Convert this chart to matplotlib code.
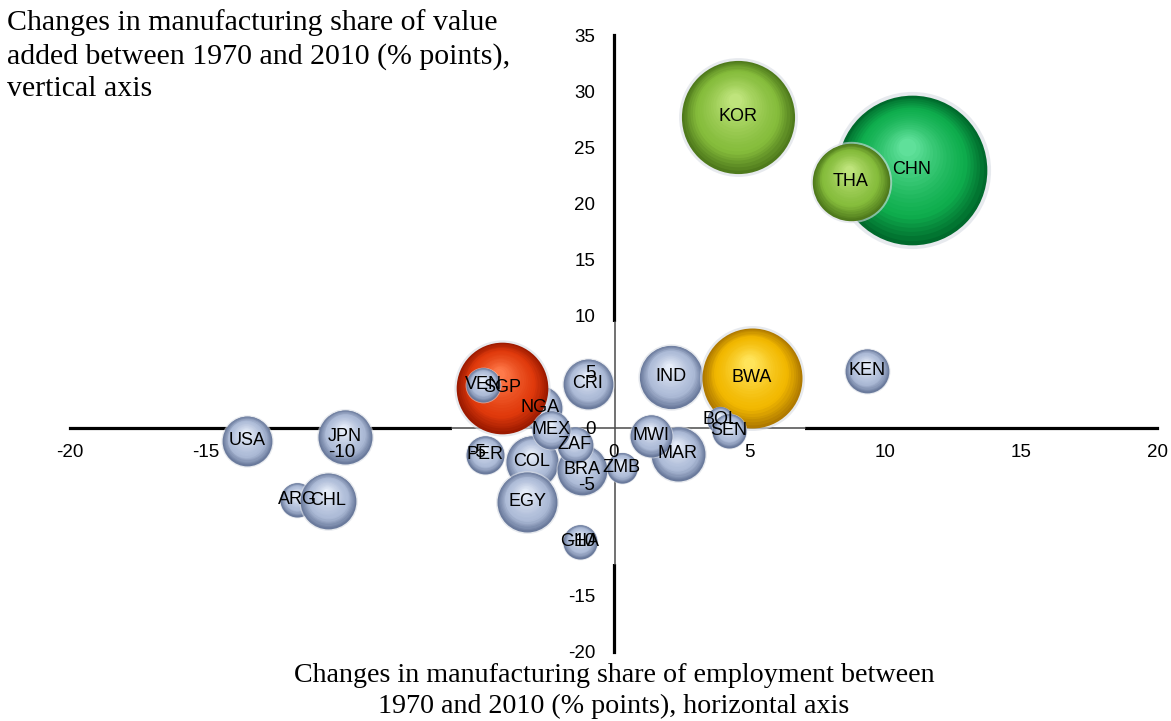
import numpy as np
import matplotlib
matplotlib.use("Agg")
import matplotlib.pyplot as plt
from matplotlib import transforms
from matplotlib.colors import to_rgb
from matplotlib.patches import Rectangle

plt.rcParams["axes.unicode_minus"] = False

# ---------------- data (drawing order: bottom -> top) ----------------
countries = ["CHN", "THA", "KOR", "NGA", "SGP", "VEN", "COL", "EGY", "BRA", "ZAF",
             "MEX", "CRI", "PER", "GHA", "ZMB", "MAR", "MWI", "IND", "BWA", "BOL",
             "SEN", "KEN", "USA", "JPN", "ARG", "CHL"]
emp_change = [10.98, 8.74, 4.58, -2.70, -4.10, -4.80, -3.00, -3.18, -1.16, -1.42,
              -2.30, -0.94, -4.73, -1.23, 0.31, 2.37, 1.38, 2.12, 5.10, 3.92,
              4.25, 9.32, -13.49, -9.88, -11.64, -10.50]
va_change = [23.0, 21.93, 27.72, 1.78, 3.57, 3.83, -3.03, -6.60, -3.74, -1.52,
             -0.18, 3.92, -2.41, -10.16, -3.57, -2.32, -0.71, 4.55, 4.46, 0.71,
             -0.27, 5.08, -1.16, -0.80, -6.42, -6.51]
bubble_size = [56, 15, 32, 4.8, 21, 2.9, 6.8, 9.0, 6.2, 3.2,
               3.6, 6.2, 3.6, 2.9, 2.3, 7.3, 4.4, 10.0, 25, 1.7,
               2.9, 4.8, 6.2, 7.3, 2.9, 7.8]
color_group = ["dkgreen", "ltgreen", "ltgreen", "gray", "red", "gray", "gray", "gray", "gray", "gray",
               "gray", "gray", "gray", "gray", "gray", "gray", "gray", "gray", "gold", "gray",
               "gray", "gray", "gray", "gray", "gray", "gray"]

x_ticks = [-20, -15, -10, -5, 0, 5, 10, 15, 20]
y_ticks = [-20, -15, -10, -5, 0, 5, 10, 15, 20, 25, 30, 35]

y_title = "Changes in manufacturing share of value\nadded between 1970 and 2010 (% points),\nvertical axis"
x_title = "Changes in manufacturing share of employment between\n1970 and 2010 (% points), horizontal axis"

# ---------------- styles ----------------
palettes = {
    "gray":    ("#6a7a9c", "#adbbd7", "#e6edf9"),
    "ltgreen": ("#4f7a1c", "#86bd3c", "#bfe47c"),
    "dkgreen": ("#006a2c", "#0fae4e", "#5fe09a"),
    "gold":    ("#b07a00", "#f2b800", "#ffe45a"),
    "red":     ("#9c1a00", "#e03a0c", "#ff7a4a"),
}

fig = plt.figure(figsize=(11.71, 7.21), dpi=100)
ax = fig.add_axes([70 / 1171, 1 - 652 / 721, 1087 / 1171, 617 / 721])
ax.set_xlim(-20, 20)
ax.set_ylim(-20, 35)

for side in ["right", "top"]:
    ax.spines[side].set_visible(False)
ax.spines["left"].set_position(("data", 0))
ax.spines["bottom"].set_position(("data", 0))
for side in ["left", "bottom"]:
    ax.spines[side].set_linewidth(2.3)
    ax.spines[side].set_color("black")
    ax.spines[side].set_zorder(1)

# inner plot-area patch with thin gray axis lines (as in the original picture)
ax.add_patch(Rectangle((-5.94, -12.2), 12.99, 21.65, facecolor="white",
                       edgecolor="none", zorder=1.5))
ax.plot([-5.94, 7.05], [0, 0], color="#4a4a4a", lw=1.1, zorder=1.6)
ax.plot([0.07, 0.07], [-12.2, 9.45], color="#4a4a4a", lw=1.1, zorder=1.6)

ax.set_xticks(x_ticks)
ax.set_yticks(y_ticks)
ax.tick_params(axis="both", length=0, labelsize=13.5)
ax.tick_params(axis="x", pad=12)
ax.tick_params(axis="y", pad=13)
for lab in ax.get_xticklabels() + ax.get_yticklabels():
    lab.set_fontfamily("Liberation Sans")
ax.xaxis.set_zorder(10)
ax.yaxis.set_zorder(10)


def mix(c1, c2, t):
    a = np.array(to_rgb(c1))
    b = np.array(to_rgb(c2))
    return tuple(a + (b - a) * t)


z = 3.0
N = 22
for x, y, s, g in zip(emp_change, va_change, bubble_size, color_group):
    edge, mid, light = palettes[g]
    r = 7.2 * np.sqrt(s)  # radius in points
    # faint halo
    ax.scatter([x], [y], s=(2 * r * 1.05) ** 2, color="#d8dce4", alpha=0.6,
               linewidths=0, zorder=z)
    for i in range(N):
        t = i / (N - 1)
        rr = r * (1 - 0.88 * t)
        dx = -0.06 * r * t
        dy = 0.30 * r * t
        if t < 0.3:
            col = mix(edge, mid, t / 0.3)
        else:
            col = mix(mid, light, ((t - 0.3) / 0.7) ** 1.3)
        tr = transforms.offset_copy(ax.transData, fig=fig, x=dx, y=dy, units="points")
        ax.scatter([x], [y], s=(2 * rr) ** 2, color=col, linewidths=0,
                   transform=tr, zorder=z + 0.001 * (i + 1))
    z += 0.1

for x, y, name in zip(emp_change, va_change, countries):
    ax.text(x, y, name, ha="center", va="center", fontsize=13,
            family="Liberation Sans", color="black", zorder=9)

fig.text(7 / 1171, 1 - 9 / 721, y_title, ha="left", va="top", fontsize=21.5,
         family="Liberation Serif", linespacing=1.32)
fig.text(614 / 1171, 1 - 663 / 721, x_title, ha="center", va="top", fontsize=20.2,
         family="Liberation Serif", linespacing=1.32)

fig.savefig("out.png", dpi=100)
